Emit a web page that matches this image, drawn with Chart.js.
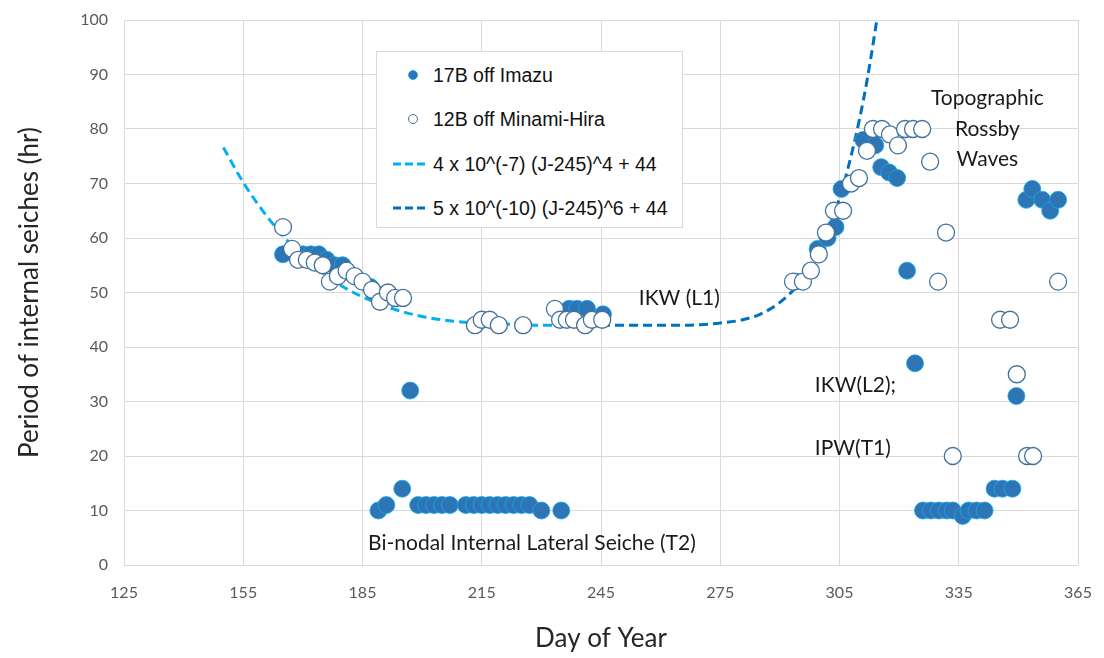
<!DOCTYPE html>
<html lang="en">
<head>
<meta charset="UTF-8">
<title>Internal seiches</title>
<style>
    body { margin: 0; background: #fff; }
    .wrap { position: relative; width: 1104px; height: 658px; }
    #legend {
        position: absolute; left: 376px; top: 51px; width: 307px; height: 177px;
        background: #fff; border: 1px solid #d9d9d9; box-sizing: border-box;
        font-family: "Liberation Sans", Arial, sans-serif; font-size: 19.5px; color: #111;
    }
    #legend .row { position: absolute; left: 0; height: 22px; display: flex; align-items: center; white-space: nowrap; }
    #legend .mark { width: 56px; height: 20px; flex: none; }
</style>
</head>
<body>
<div class="wrap">
    <canvas id="chart" width="1104" height="658"></canvas>
    <div id="legend"></div>
</div>

<script src="https://cdn.jsdelivr.net/npm/chart.js"></script>
<script>
    // 17B off Imazu (filled)
    var imazuDay = [165, 170, 172, 174, 176, 178, 180, 187, 188,
        189, 191, 195, 197, 199, 201, 203, 205, 207,
        211, 213, 215, 217, 219, 221, 223, 225, 227, 230, 235,
        237, 239, 241.5, 245.5,
        294, 299.5, 302, 304, 305.5, 311, 314, 315.5, 317.5, 319.5, 322, 324,
        326, 328, 330, 332, 333.5, 336, 337.5, 339.5, 341.5, 344, 346, 348.5,
        349.5, 352, 353.5, 356, 358, 360];
    var imazuHr = [57, 57, 57, 57, 56, 55, 55, 51, 50,
        10, 11, 14, 32, 11, 11, 11, 11, 11,
        11, 11, 11, 11, 11, 11, 11, 11, 11, 10, 10,
        47, 47, 47, 46,
        52, 58, 60, 62, 69, 78, 77, 73, 72, 71, 54, 37,
        10, 10, 10, 10, 10, 9, 10, 10, 10, 14, 14, 14,
        31, 67, 69, 67, 65, 67];

    // 12B off Minami-Hira (open)
    var hiraDay = [165, 167.3, 168.8, 171, 173, 175, 176.8, 178.8, 181, 183, 185, 187.4, 189.4, 191.4, 193.2, 195.2,
        213.3, 215, 217, 219.3, 225.4,
        233.4, 234.7, 236.4, 238.2, 241, 242.7, 245.3,
        293.3, 295.8, 297.8, 299.8, 301.6, 303.6, 305.9, 307.9, 309.9, 311.9,
        313.4, 315.7, 317.7, 319.7, 321.5, 323.5, 325.8, 327.8, 329.8, 331.8, 333.5,
        345.4, 347.9, 349.6, 352.2, 353.7, 360];
    var hiraHr = [62, 58, 56, 56, 55.5, 55, 52, 53, 54, 53, 52, 50.5, 48.3, 50, 49, 49,
        44, 45, 45, 44, 44,
        47, 45, 45, 45, 44, 45, 45,
        52, 52, 54, 57, 61, 65, 65, 70, 71, 76,
        80, 80, 79, 77, 80, 80, 80, 74, 52, 61, 20,
        45, 45, 35, 20, 20, 52];

    // fitted curves, values
    var fit4Day = [150, 155, 160, 165, 170, 175, 180, 185, 190, 195, 200, 205, 210, 215, 220, 225, 230, 235, 240, 245];
    var fit4Hr = [76.6, 70.2, 64.9, 60.4, 56.7, 53.6, 51.1, 49.2, 47.7, 46.5, 45.6, 45.0, 44.6, 44.3, 44.2, 44.1, 44.0, 44.0, 44.0, 44.0];
    var fit6Day = [245, 250, 255, 260, 265, 270, 275, 280, 285, 290, 295, 300, 305, 307, 310, 312, 315];
    var fit6Hr = [44.0, 44.0, 44.0, 44.0, 44.0, 44.1, 44.4, 44.9, 46.0, 48.2, 51.8, 57.8, 67.3, 72.4, 81.7, 89.2, 102.8];

    var xTicks = [125, 155, 185, 215, 245, 275, 305, 335, 365];
    var yTicks = [0, 10, 20, 30, 40, 50, 60, 70, 80, 90, 100];

    var notes = [
        { text: "IKW (L1)", day: 254.5, hr: 49, align: "left" },
        { text: "Topographic", day: 342.2, hr: 85.7, align: "center" },
        { text: "Rossby", day: 342.2, hr: 79.9, align: "center" },
        { text: "Waves", day: 342.2, hr: 74.5, align: "center" },
        { text: "IKW(L2);", day: 298.8, hr: 33, align: "left" },
        { text: "IPW(T1)", day: 298.8, hr: 21.5, align: "left" },
        { text: "Bi-nodal Internal Lateral Seiche (T2)", day: 186.4, hr: 4, align: "left" }
    ];

    function pts(xs, ys) {
        return xs.map(function (x, i) { return { x: x, y: ys[i] }; });
    }

    var FONT = "Lato, 'Open Sans', sans-serif";

    var notePlugin = {
        id: "notes",
        afterDatasetsDraw: function (chart) {
            var ctx = chart.ctx;
            var xs = chart.scales.x, ys = chart.scales.y;
            ctx.save();
            ctx.font = "21px " + FONT;
            ctx.fillStyle = "#1a1a1a";
            ctx.textBaseline = "middle";
            notes.forEach(function (n) {
                ctx.textAlign = n.align;
                ctx.fillText(n.text, xs.getPixelForValue(n.day), ys.getPixelForValue(n.hr));
            });
            ctx.restore();
        }
    };

    var datasets = [
        {
            label: "17B off Imazu",
            data: pts(imazuDay, imazuHr),
            backgroundColor: "#2e75b6",
            borderColor: "rgba(20,170,235,0.8)",
            borderWidth: 1,
            pointRadius: 8.5,
            showLine: false,
            order: 2
        },
        {
            label: "12B off Minami-Hira",
            data: pts(hiraDay, hiraHr),
            backgroundColor: "#ffffff",
            borderColor: "#41719c",
            borderWidth: 1.3,
            pointRadius: 8.5,
            showLine: false,
            order: 1
        },
        {
            label: "4 x 10^(-7) (J-245)^4 + 44",
            data: pts(fit4Day, fit4Hr),
            showLine: true,
            borderColor: "#00b0f0",
            borderWidth: 3,
            borderDash: [9, 5],
            pointRadius: 0,
            cubicInterpolationMode: "monotone",
            order: 3
        },
        {
            label: "5 x 10^(-10) (J-245)^6 + 44",
            data: pts(fit6Day, fit6Hr),
            showLine: true,
            borderColor: "#0070c0",
            borderWidth: 3,
            borderDash: [9, 5],
            pointRadius: 0,
            cubicInterpolationMode: "monotone",
            order: 3
        }
    ];

    new Chart(document.getElementById("chart").getContext("2d"), {
        type: "scatter",
        data: { datasets: datasets },
        plugins: [notePlugin],
        options: {
            responsive: false,
            animation: false,
            layout: { padding: { left: 0, top: 20, right: 26, bottom: 0 } },
            plugins: { legend: { display: false }, tooltip: { enabled: false } },
            scales: {
                x: {
                    type: "linear", min: 125, max: 365,
                    afterBuildTicks: function (s) { s.ticks = xTicks.map(function (v) { return { value: v }; }); },
                    afterFit: function (s) { s.height = 93; },
                    // invisible tick marks push the labels away without adding side padding
                    grid: { color: "#d9d9d9", drawTicks: true, tickLength: 18, tickColor: "rgba(0,0,0,0)" },
                    border: { display: false },
                    ticks: { padding: 0, color: "#595959", font: { family: FONT, size: 16 } },
                    title: { display: true, text: "Day of Year", color: "#262626", padding: { top: 5 }, font: { family: FONT, size: 26 } }
                },
                y: {
                    min: 0, max: 100,
                    afterBuildTicks: function (s) { s.ticks = yTicks.map(function (v) { return { value: v }; }); },
                    afterFit: function (s) { s.width = 124; },
                    grid: { color: "#d9d9d9", drawTicks: true, tickLength: 16, tickColor: "rgba(0,0,0,0)" },
                    border: { display: false },
                    ticks: { padding: 0, color: "#595959", font: { family: FONT, size: 16 } },
                    title: { display: true, text: "Period of internal seiches (hr)", color: "#262626", padding: { top: 14 }, font: { family: FONT, size: 26 } }
                }
            }
        }
    });

    // legend box inside the plot
    var legend = document.getElementById("legend");
    var rowTops = [12, 56, 101, 145];
    datasets.forEach(function (d, i) {
        var mark;
        if (d.showLine) {
            mark = '<svg class="mark" viewBox="0 0 56 20"><line x1="16" y1="10" x2="50" y2="10" stroke="' + d.borderColor +
                '" stroke-width="3" stroke-dasharray="8,4"/></svg>';
        } else {
            mark = '<svg class="mark" viewBox="0 0 56 20"><circle cx="36" cy="10" r="4.5" fill="' + d.backgroundColor +
                '" stroke="' + d.borderColor + '" stroke-width="1"/></svg>';
        }
        var row = document.createElement("div");
        row.className = "row";
        row.style.top = rowTops[i] + "px";
        row.innerHTML = mark + '<span>' + d.label + '</span>';
        legend.appendChild(row);
    });
</script>
</body>
</html>
